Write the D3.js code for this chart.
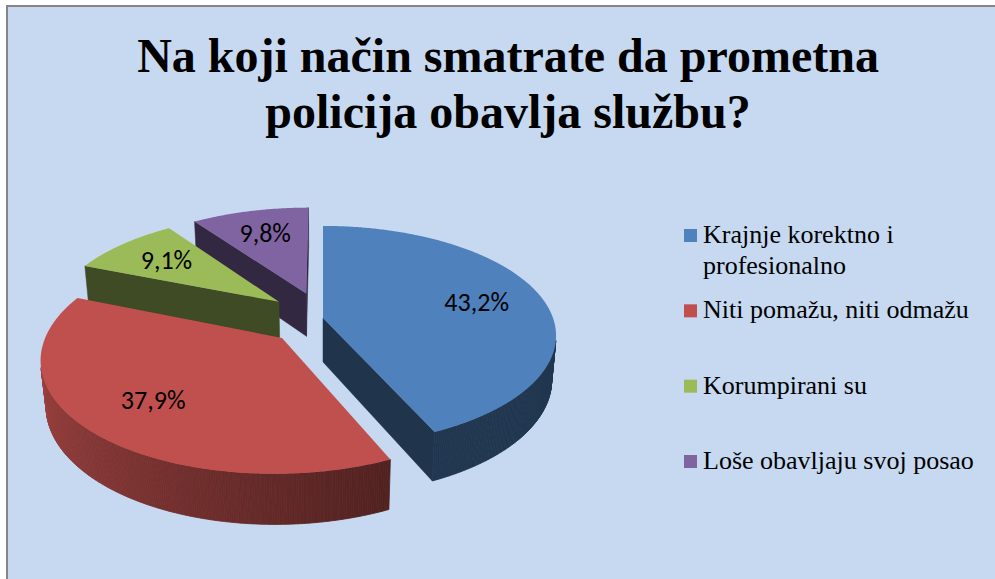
<!DOCTYPE html>
<html>
<head>
<meta charset="utf-8">
<script src="https://cdn.jsdelivr.net/npm/d3@7"></script>
<style>
  html, body { margin: 0; padding: 0; background: #fff; }
  svg { display: block; }
</style>
</head>
<body>
<div id="chart"></div>
<script>
// Data
const legendLabels = [["Krajnje korektno i", "profesionalno"], ["Niti pomažu, niti odmažu"], ["Korumpirani su"], ["Loše obavljaju svoj posao"]];
const categories = legendLabels.map(l => l.join(" "));
const values = [43.2, 37.9, 9.1, 9.8];
const colors = ["#4f81bd", "#c0504d", "#9bbb59", "#8064a2"];
const titleLines = ["Na koji način smatrate da prometna", "policija obavlja službu?"];

const width = 995,
  height = 579;

const svg = d3.select("#chart")
  .append("svg")
  .attr("width", width)
  .attr("height", height);

// chart area
svg.append("rect")
  .attr("x", 7)
  .attr("y", 6)
  .attr("width", 1010)
  .attr("height", 600)
  .attr("fill", "#c6d9f1")
  .attr("stroke", "#868686")
  .attr("stroke-width", 2);

// title
svg.append("text")
  .attr("x", 508)
  .attr("text-anchor", "middle")
  .style("font-family", "'Liberation Serif', 'Times New Roman', serif")
  .style("font-weight", "bold")
  .style("font-size", "48px")
  .selectAll("tspan")
  .data(titleLines)
  .enter()
  .append("tspan")
  .attr("x", 508)
  .attr("y", (d, i) => 72 + i * 56)
  .text(d => d);

// 3D camera: pie lies flat, Z points away from viewer
const ox = 323, oy = 318, focal = 1265, dist = 5.5;
const tilt = 27.7 * Math.PI / 180;
const sT = Math.sin(tilt), cT = Math.cos(tilt);
const thick = 0.22, explode = 0.25;
const camera = [0, dist * sT, -dist * cT];

function project(X, Y, Z) {
  const depth = dist - Y * sT + Z * cT;
  const up = Y * cT + Z * sT;
  return [ox + focal * X / depth, oy - focal * up / depth];
}

function shade(c, k) {
  const r = d3.rgb(c);
  return d3.rgb(r.r * k, r.g * k, r.b * k).formatHex();
}

// wall light depends on angle (lighter on the left)
const light = d3.scaleLinear()
  .domain([155, 270])
  .range([0.42, 0.86])
  .clamp(true);

const pie = d3.pie().sort(null).value(d => d);
const arcs = pie(values).map((d, i) => {
  const mid = (d.startAngle + d.endAngle) / 2;
  const e = i === 0 ? 0 : explode;
  return Object.assign(d, {
    i: i,
    mid: mid,
    cx: e * Math.sin(mid),
    cz: e * Math.cos(mid)
  });
});

function rim(d, a, y) {
  return project(d.cx + Math.sin(a), y, d.cz + Math.cos(a));
}

function visible(n, p) {
  return n[0] * (camera[0] - p[0]) + n[1] * (camera[1] - p[1]) + n[2] * (camera[2] - p[2]) > 0;
}

// back to front
const order = arcs.slice().sort((a, b) => {
  const da = Math.hypot(a.cx - camera[0], camera[1], a.cz - camera[2]);
  const db = Math.hypot(b.cx - camera[0], camera[1], b.cz - camera[2]);
  return db - da;
});

const line = d3.line().curve(d3.curveLinearClosed);
const pieG = svg.append("g");

order.forEach(d => {
  const g = pieG.append("g");
  const col = colors[d.i];
  const step = Math.PI / 360;
  const n = Math.max(2, Math.ceil((d.endAngle - d.startAngle) / step));
  const angles = d3.range(n + 1).map(k => d.startAngle + (d.endAngle - d.startAngle) * k / n);

  // radial faces
  const faces = [
    { a: d.startAngle, nrm: [-Math.cos(d.startAngle), 0, Math.sin(d.startAngle)] },
    { a: d.endAngle, nrm: [Math.cos(d.endAngle), 0, -Math.sin(d.endAngle)] }
  ];
  faces.forEach(f => {
    const p = [d.cx + 0.5 * Math.sin(f.a), -thick / 2, d.cz + 0.5 * Math.cos(f.a)];
    if (!visible(f.nrm, p)) return;
    const pts = [
      project(d.cx, 0, d.cz),
      rim(d, f.a, 0),
      rim(d, f.a, -thick),
      project(d.cx, -thick, d.cz)
    ];
    g.append("path")
      .attr("d", line(pts))
      .attr("fill", shade(col, 0.4))
      .attr("stroke", shade(col, 0.4))
      .attr("stroke-width", 0.5);
  });

  // outer wall
  for (let k = 0; k < n; k++) {
    const a0 = angles[k], a1 = angles[k + 1], am = (a0 + a1) / 2;
    const nrm = [Math.sin(am), 0, Math.cos(am)];
    const p = [d.cx + Math.sin(am), -thick / 2, d.cz + Math.cos(am)];
    if (!visible(nrm, p)) continue;
    const c = shade(col, light(am * 180 / Math.PI));
    g.append("path")
      .attr("d", line([rim(d, a0, 0), rim(d, a1, 0), rim(d, a1, -thick), rim(d, a0, -thick)]))
      .attr("fill", c)
      .attr("stroke", c)
      .attr("stroke-width", 0.8);
  }

  // top face
  const top = [project(d.cx, 0, d.cz)].concat(angles.map(a => rim(d, a, 0)));
  g.append("path")
    .attr("d", line(top))
    .attr("fill", col);
});

// data labels
const fmt = d3.formatLocale({ decimal: ",", thousands: ".", grouping: [3], currency: ["", ""] }).format(".1f");
svg.selectAll(".label")
  .data(arcs)
  .enter()
  .append("text")
  .attr("class", "label")
  .attr("transform", d => {
    const p = project(d.cx + 0.7 * Math.sin(d.mid), 0, d.cz + 0.7 * Math.cos(d.mid));
    return "translate(" + p + ")";
  })
  .attr("dy", "0.34em")
  .attr("text-anchor", "middle")
  .style("font-family", "Carlito, Calibri, 'Open Sans', sans-serif")
  .style("font-size", "26px")
  .style("fill", "#000")
  .text(d => fmt(d.data) + "%");

// legend
const legendY = d3.scalePoint()
  .domain(categories)
  .range([229, 455]);

const legend = svg.selectAll(".legend")
  .data(categories)
  .enter()
  .append("g")
  .attr("class", "legend")
  .attr("transform", d => "translate(684," + legendY(d) + ")");

legend.append("rect")
  .attr("width", 13)
  .attr("height", 13)
  .attr("fill", (d, i) => colors[i]);

legend.append("text")
  .style("font-family", "'Liberation Serif', 'Times New Roman', serif")
  .style("font-size", "26px")
  .style("fill", "#000")
  .selectAll("tspan")
  .data((d, i) => legendLabels[i])
  .enter()
  .append("tspan")
  .attr("x", 19)
  .attr("y", (d, j) => 14 + j * 31)
  .text(d => d);
</script>
</body>
</html>
